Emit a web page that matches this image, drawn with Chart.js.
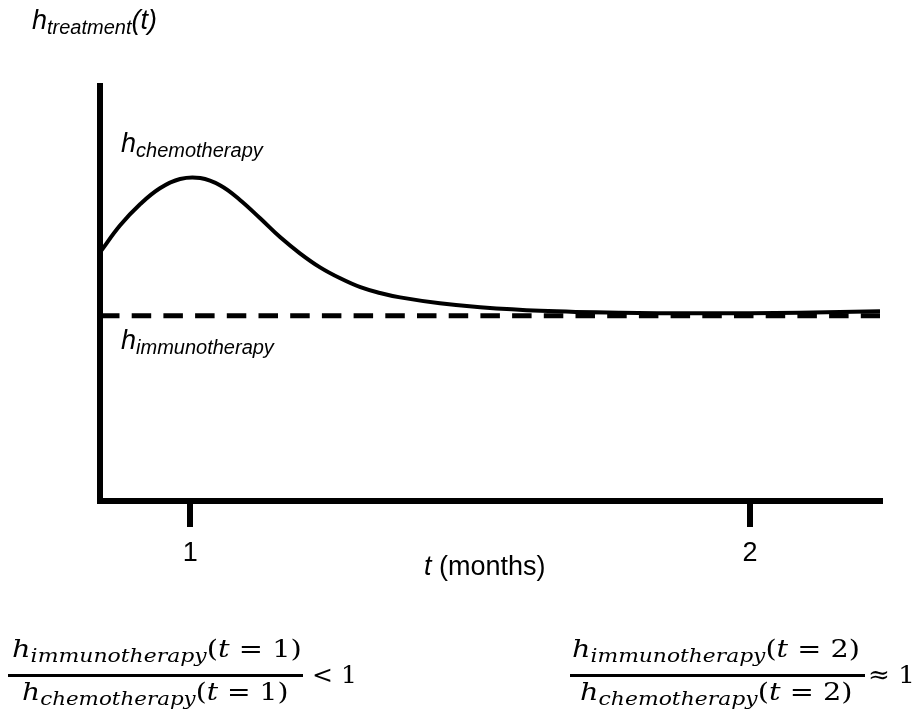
<!DOCTYPE html>
<html>
<head>
<meta charset="utf-8">
<script src="https://cdn.jsdelivr.net/npm/chart.js@4.4.1/dist/chart.umd.min.js"></script>
<style>
  html, body { margin: 0; padding: 0; background: #fff; }
  #wrap { position: relative; width: 922px; height: 713px; overflow: hidden; }
  #hazard { position: absolute; left: 0; top: 0; }
  .lbl {
    position: absolute; white-space: nowrap; line-height: 1;
    font-family: "Liberation Sans", Arial, sans-serif; font-style: italic; color: #000;
  }
  .lbl .sub { font-size: 20px; vertical-align: -5px; }
  .math {
    position: absolute; white-space: nowrap; line-height: 1;
    font-family: "DejaVu Serif", serif; font-size: 25px; color: #000; transform-origin: 0 0;
  }
  .math i { font-style: italic; }
  .math .sub { font-size: 19px; vertical-align: -5px; font-style: italic; }
  .bar { position: absolute; height: 3px; background: #000; }
</style>
</head>
<body>
<div id="wrap">
  <canvas id="hazard" width="922" height="713"></canvas>

  <div class="lbl" style="left:32px; top:7px; font-size:27px;">h<span class="sub">treatment</span>(t)</div>
  <div class="lbl" style="left:121px; top:130px; font-size:27px;">h<span class="sub">chemotherapy</span></div>
  <div class="lbl" style="left:121px; top:327px; font-size:27px;">h<span class="sub">immunotherapy</span></div>
  <div class="lbl" style="left:424px; top:553px; font-size:27px;">t<span style="font-style:normal"> (months)</span></div>

  <div class="math" data-w="290" style="left:12px; top:636px;"><i>h</i><span class="sub">immunotherapy</span>(<i>t</i> = 1)</div>
  <div class="bar" style="left:8px; top:674px; width:295px;"></div>
  <div class="math" data-w="266" style="left:22px; top:679px;"><i>h</i><span class="sub">chemotherapy</span>(<i>t</i> = 1)</div>
  <div class="math" data-w="45" style="left:312px; top:662px;">&lt; 1</div>

  <div class="math" data-w="288" style="left:572px; top:636px;"><i>h</i><span class="sub">immunotherapy</span>(<i>t</i> = 2)</div>
  <div class="bar" style="left:570px; top:674px; width:295px;"></div>
  <div class="math" data-w="272" style="left:580px; top:679px;"><i>h</i><span class="sub">chemotherapy</span>(<i>t</i> = 2)</div>
  <div class="math" data-w="47" style="left:868px; top:662px;">&#8776; 1</div>
</div>

<script>
// time axis in months, hazard in units of the immunotherapy hazard
const months = [0.839, 0.875, 0.911, 0.946, 0.982, 1.018, 1.054, 1.089, 1.125, 1.161,
                1.196, 1.232, 1.268, 1.304, 1.339, 1.375, 1.446, 1.518, 1.625, 1.768,
                1.911, 2.089, 2.232];
const chemoHazard = [1.342, 1.488, 1.603, 1.688, 1.738, 1.743, 1.703, 1.625, 1.526, 1.423,
                     1.337, 1.261, 1.202, 1.154, 1.123, 1.099, 1.067, 1.046, 1.027, 1.016,
                     1.013, 1.016, 1.024];
const immunoMonths = [0.839, 2.232];
const immunoHazard = [1, 1];
const tickMonths = [1, 2];

const toPoints = (xs, ys) => xs.map((x, i) => ({ x: x, y: ys[i] }));

const ctx = document.getElementById("hazard").getContext("2d");

new Chart(ctx, {
    type: "line",
    data: {
        datasets: [
            {
                label: "chemotherapy",
                data: toPoints(months, chemoHazard),
                borderColor: "#000",
                borderWidth: 4,
                pointRadius: 0,
                tension: 0.4,
            },
            {
                label: "immunotherapy",
                data: toPoints(immunoMonths, immunoHazard),
                borderColor: "#000",
                borderWidth: 5,
                borderDash: [19.5, 12.2],
                pointRadius: 0,
            },
        ],
    },
    options: {
        responsive: false,
        animation: false,
        devicePixelRatio: 1,
        layout: { padding: { left: 100, right: 42, top: 86, bottom: 132 } },
        plugins: { legend: { display: false }, tooltip: { enabled: false } },
        scales: {
            x: {
                type: "linear",
                min: months[0],
                max: months[months.length - 1],
                afterBuildTicks: (scale) => {
                    scale.ticks = tickMonths.map((v) => ({ value: v }));
                },
                afterFit: (scale) => { scale.height = 80; },
                ticks: {
                    color: "#000",
                    padding: 10,
                    font: { family: "Liberation Sans", size: 27 },
                    callback: (v) => String(v),
                },
                grid: {
                    drawOnChartArea: false,
                    drawTicks: true,
                    tickLength: 26,
                    lineWidth: 6,
                    color: "#000",
                },
                border: { display: true, width: 6, color: "#000" },
            },
            y: {
                min: 0,
                max: 2.24,
                afterFit: (scale) => { scale.width = 0; },
                ticks: { display: false },
                grid: { display: false, drawTicks: false },
                border: { display: true, width: 6, color: "#000" },
            },
        },
    },
});

// stretch the ratio formulas to their set widths
document.querySelectorAll(".math").forEach((el) => {
    const w = parseFloat(el.dataset.w);
    el.style.transform = `scaleX(${w / el.offsetWidth})`;
});
</script>
</body>
</html>
